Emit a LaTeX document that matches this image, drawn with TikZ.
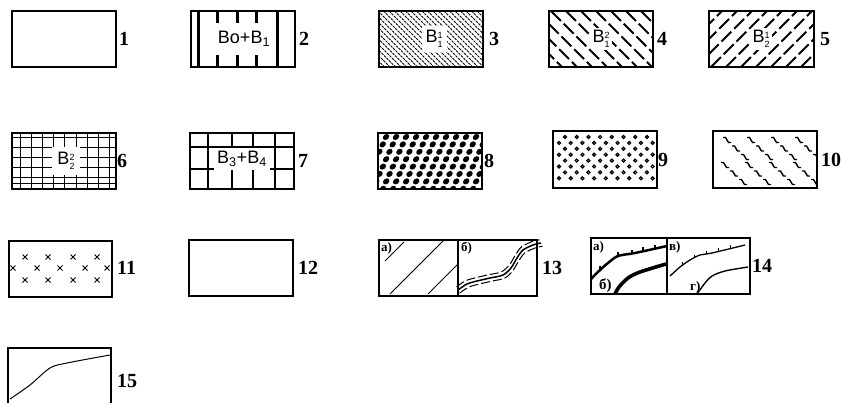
\documentclass[tikz,border=0pt]{standalone}
\usepackage{fontspec}
\setmainfont{Liberation Serif}
\newfontfamily\sansf{Liberation Sans}
\newcommand\supsub[2]{\raisebox{-5pt}{\fontsize{9}{11.5}\selectfont\shortstack[l]{#1\\#2}}}
\begin{document}
\begin{tikzpicture}[x=1pt,y=-1pt,
  box/.style={draw=black,line width=1.2pt},
  num/.style={anchor=west,inner sep=0pt,font=\fontsize{20}{20}\selectfont\bfseries},
  intext/.style={fill=white,inner sep=4pt,font=\sansf\fontsize{18}{18}\selectfont},
  sub/.style={anchor=north west,inner sep=1pt,font=\fontsize{13}{13}\selectfont\bfseries},
  hatchfine/.style={line width=1pt,dash pattern=on 2.5pt off 1pt},
  hatchbold/.style={line width=1.9pt,dash pattern=on 14pt off 4pt},
  gridline/.style={line width=1pt},
  zigmark/.style={line width=1.4pt},
  thinline/.style={line width=0.9pt}]
\fill[white] (0,0) rectangle (845,403);
\useasboundingbox (0,0) rectangle (845,403);

% ---------- 1
\draw[box] (12,11) rectangle (116,67);
\node[num] (n1) at (119,39) {1};

% ---------- 2
\draw[line width=3pt] (198,11)--(198,67) (277,11)--(277,67);
\foreach \x in {217,237,256} \draw[line width=3pt] (\x,11)--(\x,23) (\x,55)--(\x,67);
\draw[box] (191,11) rectangle (295,67);
\node[font=\sansf\fontsize{18}{18}\selectfont,inner sep=1pt] (t2) at (244,39) {Bo+B\textsubscript{1}};
\node[num] (n2) at (299,39) {2};

% ---------- 3
\begin{scope}
\clip (379,11) rectangle (483,67);
\foreach \o in {-56,-50.5,...,104} \draw[hatchfine] ({379+\o},11) -- ({435+\o},67);
\end{scope}
\draw[box] (379,11) rectangle (483,67);
\node[intext] (t3) at (434,39) {B\supsub{1}{1}};
\node[num] (n3) at (489,39) {3};

% ---------- 4
\begin{scope}
\clip (549,11) rectangle (653,67);
\foreach \o in {-58,-43,...,104} \draw[hatchbold] ({549+\o},11) -- ({605+\o},67);
\end{scope}
\draw[box] (549,11) rectangle (653,67);
\node[intext,inner sep=2pt] (t4) at (601,39) {B\supsub{2}{1}};
\node[num] (n4) at (657,39) {4};

% ---------- 5
\begin{scope}
\clip (709,11) rectangle (814,67);
\foreach \o in {-58,-43,...,104} \draw[hatchbold] ({709+\o},67) -- ({765+\o},11);
\end{scope}
\draw[box] (709,11) rectangle (814,67);
\node[intext,inner sep=2pt] (t5) at (761,39) {B\supsub{1}{2}};
\node[num] (n5) at (820,39) {5};

% ---------- 6
\begin{scope}
\clip (12,133) rectangle (116,189);
\foreach \x in {20,31.2,...,112} \draw[gridline] (\x,133)--(\x,189);
\foreach \y in {138,148,...,180} \draw[gridline] (12,\y)--(116,\y);
\draw[gridline] (12,184)--(116,184);
\end{scope}
\draw[box] (12,133) rectangle (116,189);
\node[intext,inner sep=5pt] (t6) at (66,161) {B\supsub{2}{2}};
\node[num] (n6) at (117,161) {6};

% ---------- 7
\draw[line width=1.2pt] (190,147)--(294,147) (190,169)--(294,169);
\foreach \x in {208,232,253,275} \draw[line width=1.2pt] (\x,133)--(\x,189);
\draw[box] (190,133) rectangle (294,189);
\node[intext,inner sep=3pt] (t7) at (242,159) {B\textsubscript{3}+B\textsubscript{4}};
\node[num] (n7) at (298,161) {7};

% ---------- 8
\begin{scope}
\clip (378,133) rectangle (482,189);
\foreach \j in {0,...,7}{
  \foreach \i in {-1,...,12}{
    \fill[shift={({376+10*\i-3.3*\j},{137+7.4*\j})},rotate=40] (0,0) ellipse [x radius=3.5pt,y radius=2.7pt];
  }
}
\end{scope}
\draw[box] (378,133) rectangle (482,189);
\node[num] (n8) at (484,161) {8};

% ---------- 9
\begin{scope}
\clip (553,131) rectangle (657,188);
\foreach \j in {0,...,7}{
  \pgfmathsetmacro{\off}{mod(\j,2)==0 ? 6 : 0}
  \foreach \i in {0,...,9}{
    \draw[line width=1.2pt] ({559+11.7*\i+\off},{137+5.9*\j}) circle [radius=1.5pt];
  }
}
\end{scope}
\draw[box] (553,131) rectangle (657,188);
\node[num] (n9) at (658,160) {9};

% ---------- 10
\begin{scope}
\clip (713,131) rectangle (817,188);
\foreach \xo in {727,751,775,799}{
  \foreach \k in {0,1,2}{
    \draw[zigmark,shift={({\xo+9*\k},{140+8.5*\k})}] (-4,-2.5) -- (-1.5,-2.5) -- (1.5,2.5) -- (4,2.5);
  }
}
\foreach \xo in {725,749,773,797}{
  \foreach \k in {0,1,2}{
    \draw[zigmark,shift={({\xo+9*\k},{165+8.5*\k})}] (-4,-2.5) -- (-1.5,-2.5) -- (1.5,2.5) -- (4,2.5);
  }
}
\end{scope}
\draw[box] (713,131) rectangle (817,188);
\node[num] (n10) at (821,160) {10};

% ---------- 11
\foreach \x in {25,48,73,97}{
  \draw[line width=1pt,shift={(\x,257)}] (-2.5,-2.5)--(2.5,2.5) (-2.5,2.5)--(2.5,-2.5);
  \draw[line width=1pt,shift={(\x,280)}] (-2.5,-2.5)--(2.5,2.5) (-2.5,2.5)--(2.5,-2.5);
}
\foreach \x in {13,37,60,85,107}{
  \draw[line width=1pt,shift={(\x,268)}] (-2.5,-2.5)--(2.5,2.5) (-2.5,2.5)--(2.5,-2.5);
}
\draw[box] (9,241) rectangle (112,297);
\node[num] (n11) at (117,268) {11};

% ---------- 12
\draw[box] (189,240) rectangle (293,296);
\node[num] (n12) at (298,268) {12};

% ---------- 13
\begin{scope}
\clip (379,240) rectangle (458,296);
\draw[thinline] (385,261)--(404,242);
\draw[thinline] (390,294)--(444,240);
\draw[thinline] (428,294)--(458,264);
\end{scope}
\draw[line width=1.5pt] plot[smooth] coordinates {(458,290) (467,284) (477,281) (490,278) (503,275) (511,268) (517,258) (523,250) (533,245) (541,243)};
\draw[line width=1pt,dash pattern=on 9pt off 3pt,shift={(-1.5,-3.2)}] plot[smooth] coordinates {(458,290) (467,284) (477,281) (490,278) (503,275) (511,268) (517,258) (523,250) (533,245) (541,243)};
\draw[line width=1pt,dash pattern=on 9pt off 3pt,shift={(1.5,3.2)}] plot[smooth] coordinates {(458,290) (467,284) (477,281) (490,278) (503,275) (511,268) (517,258) (523,250) (533,245) (541,243)};
\draw[box] (379,240) rectangle (537,296);
\draw[box] (458,240)--(458,296);
\node[sub] (a13) at (380,241) {а)};
\node[sub] (b13) at (460,241) {б)};
\node[num] (n13) at (542,268) {13};

% ---------- 14
\draw[box] (591,238) rectangle (750,294);
\draw[box] (667,238)--(667,294);
\node[sub] (a14) at (592,240) {а)};
\node[sub,font=\fontsize{15}{15}\selectfont\bfseries] (b14) at (598,278) {б)};
\node[sub] (c14) at (668,240) {в)};
\node[sub] (d14) at (689,280) {г)};
\draw[line width=2.5pt,line join=round] plot[smooth] coordinates {(591,279) (600,270) (608,263) (618,256) (635,253) (667,246)};
\foreach \x/\y in {600/270,618/256,632/253.5,643/251.3,655/248.6}
  \draw[line width=1.2pt] (\x,\y)--(\x,{\y-4});
\draw[line width=3.6pt,line join=round] plot[smooth] coordinates {(615,294) (619,287) (628,278) (640,272) (666,264)};
\draw[line width=1.3pt,line join=round] plot[smooth] coordinates {(670,276) (680,267) (690,260) (700,255) (712,253) (745,245)};
\foreach \x/\y in {682/265.6,694/258,706/254,718/251.5,730/248.6}
  \draw[line width=1pt] (\x,\y)--(\x,{\y-3.5});
\draw[line width=1.4pt,line join=round] plot[smooth] coordinates {(697,294) (705,283) (712,276) (725,271) (748,267)};
\node[num] (n14) at (752,266) {14};

% ---------- 15
\draw[box] (8,348) rectangle (111,404);
\draw[line width=1pt] plot[smooth] coordinates {(10,399) (30,385) (50,368) (67,363) (110,355)};
\node[num] (n15) at (117,381) {15};
\end{tikzpicture}
\end{document}
